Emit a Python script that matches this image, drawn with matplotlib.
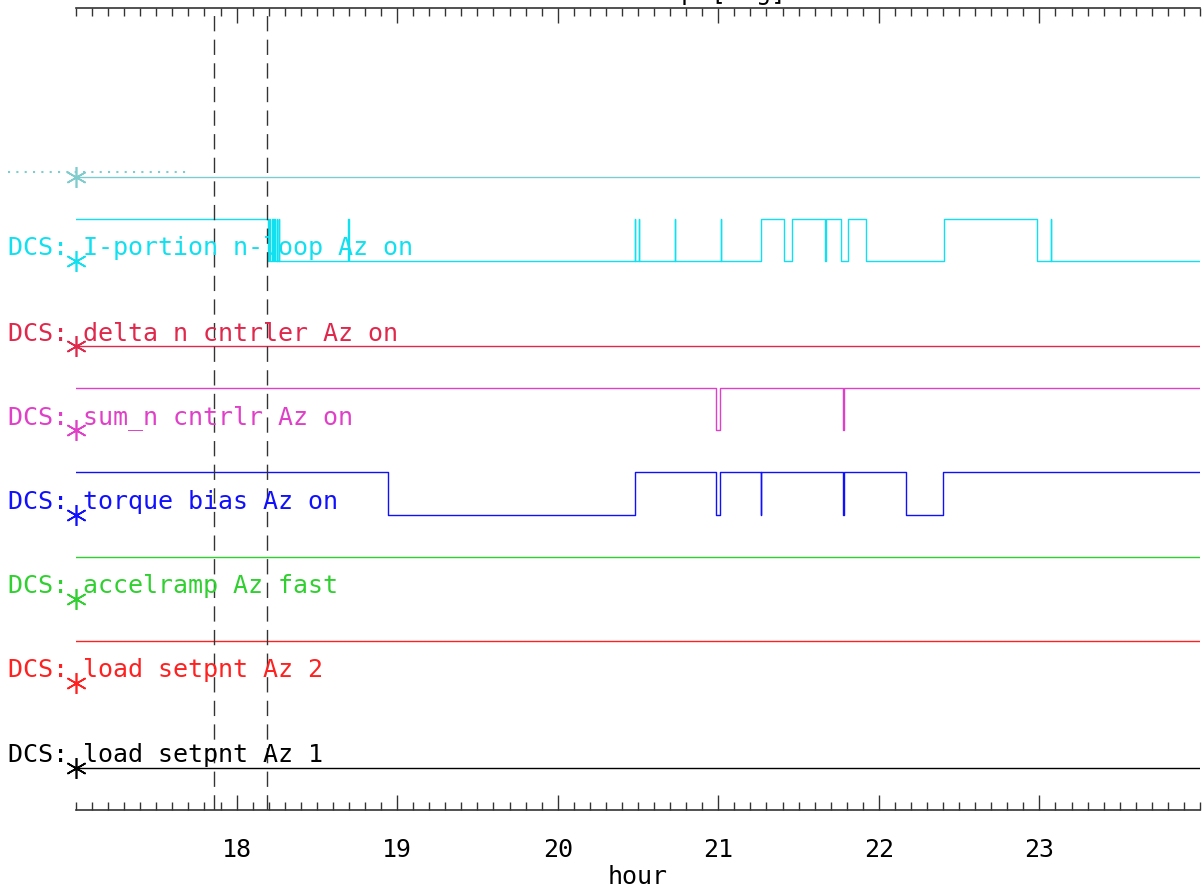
import numpy as np
import matplotlib.pyplot as plt
import matplotlib.transforms as mtransforms
from matplotlib.ticker import MultipleLocator

plt.rcParams['font.family'] = ['DejaVu Sans Mono', 'DejaVu Sans']
plt.rcParams['lines.scale_dashes'] = False

# channel labels, bottom to top
labels = [
    "DCS: load setpnt Az 1",
    "DCS: load setpnt Az 2",
    "DCS: accelramp Az fast",
    "DCS: torque bias Az on",
    "DCS: sum_n cntrlr Az on",
    "DCS: delta_n cntrler Az on",
    "DCS: I-portion n-loop Az on",
    "",
]
colors = ["#000000", "#ff2020", "#30d030", "#1010ff", "#e040c8", "#e0284c", "#10e0f0", "#80cccc"]

# initial state (0 = off, 1 = on) and the hours at which each channel toggles
start_state = [0, 1, 1, 1, 1, 0, 1, 0]
toggles = [
    [],
    [],
    [],
    [18.945, 20.479, 20.987, 21.008, 21.267, 21.269, 21.779, 21.781, 22.168, 22.401],
    [20.987, 21.008, 21.779, 21.781],
    [],
    [18.196, 18.205, 18.207, 18.222, 18.224, 18.235, 18.237, 18.250, 18.252,
     18.264, 18.266, 18.697, 18.699, 20.479, 20.481, 20.506, 20.508,
     20.730, 20.732, 21.016, 21.018, 21.269, 21.412, 21.456, 21.667, 21.669,
     21.762, 21.806, 21.922, 22.405, 22.986, 23.072, 23.074],
    [],
]

marker_hours = [17.86, 18.19]
x_min, x_max = 17.0, 24.0

fig = plt.figure(figsize=(12.04, 8.88), dpi=100)
ax = fig.add_axes([76 / 1204, 78 / 888, 1124 / 1204, 802 / 888])

for k in range(len(labels)):
    xs = [x_min] + toggles[k] + [x_max]
    states = [start_state[k]]
    for _ in toggles[k]:
        states.append(1 - states[-1])
    states.append(states[-1])
    ys = [k + 0.5 * s for s in states]
    ax.step(xs, ys, where='post', color=colors[k], lw=1.0)
    ax.plot([x_min], [k], marker=(6, 2, 0), markersize=15, color=colors[k],
            mew=1.2, clip_on=False)

trans = mtransforms.blended_transform_factory(fig.transFigure, ax.transData)
for k, lab in enumerate(labels):
    if lab:
        ax.text(8 / 1204, k + 0.07, lab, transform=trans, color=colors[k],
                fontsize=18, va='baseline', ha='left', clip_on=False)
ax.plot([8 / 1204, 190 / 1204], [7.06, 7.06], transform=trans, color=colors[7],
        ls=(0, (1.5, 4.5)), lw=1.5, clip_on=False)

for h in marker_hours:
    ax.axvline(h, color='#333333', lw=1.0, dashes=(11, 6))

ax.set_xlim(x_min, x_max)
ax.set_ylim(-0.5, 9.0)
ax.set_yticks([])
ax.spines['left'].set_visible(False)
ax.spines['right'].set_visible(False)
for s in ['top', 'bottom']:
    ax.spines[s].set_linewidth(1.2)
    ax.spines[s].set_color('#333333')

ax.set_xticks([18, 19, 20, 21, 22, 23])
ax.xaxis.set_minor_locator(MultipleLocator(0.1))
ax.tick_params(axis='x', which='both', direction='in', top=True, bottom=True,
               labeltop=False, color='#333333', width=1.0)
ax.tick_params(axis='x', which='major', length=11, labelsize=18, pad=20)
ax.tick_params(axis='x', which='minor', length=6)
ax.set_xlabel("hour", fontsize=18, labelpad=2)

fig.text(681 / 1204, 1.0, "p [deg]", fontsize=18, ha='left', va='baseline')

fig.savefig("out.png", dpi=100)
